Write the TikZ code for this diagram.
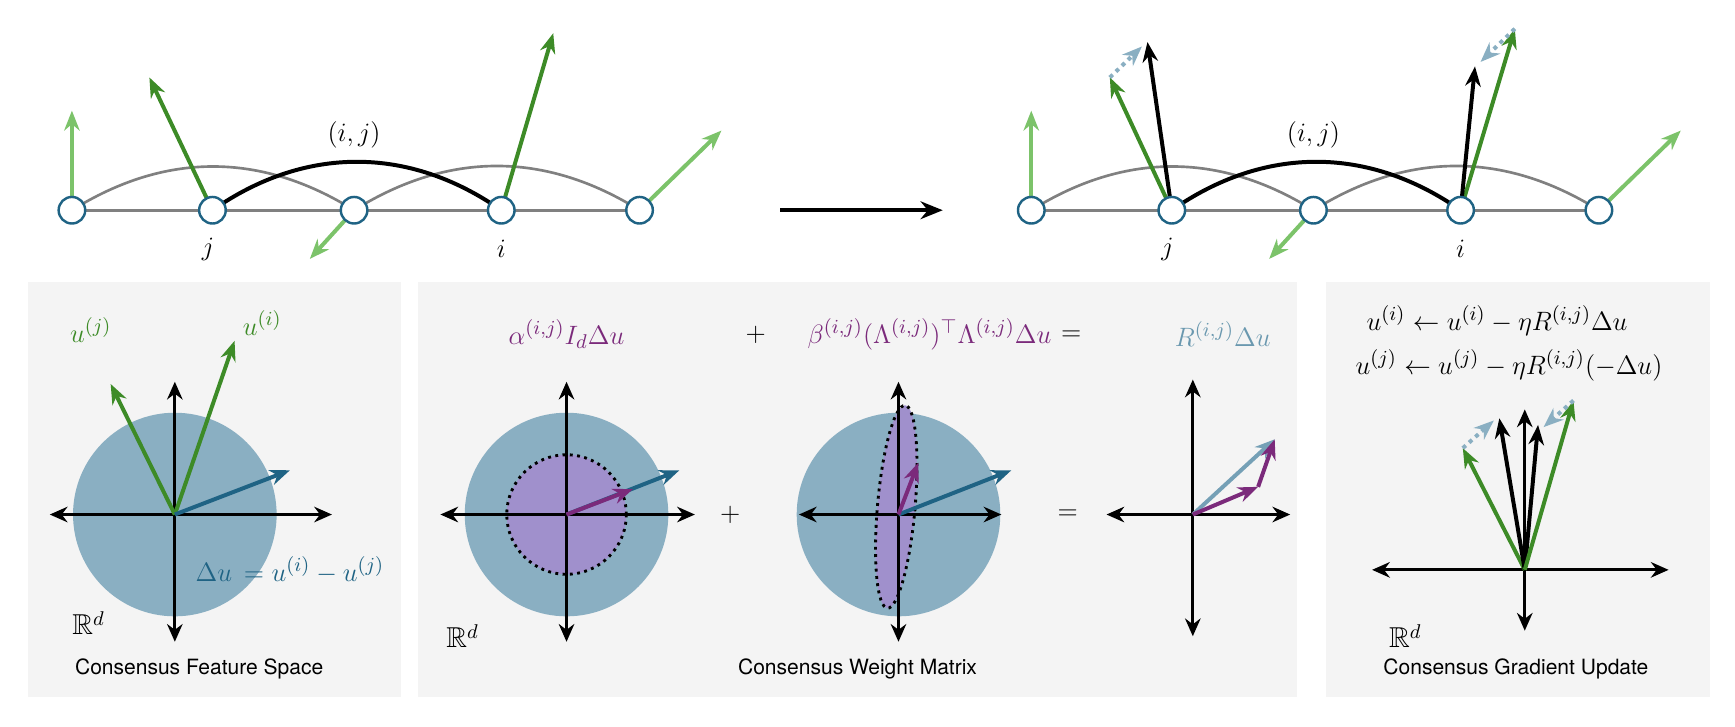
\documentclass[tikz,border=0pt]{standalone}
\usepackage{amssymb}
\usepackage{fontspec}
\setsansfont{TeX Gyre Heros}
\usetikzlibrary{arrows.meta}
\definecolor{dg}{HTML}{3D8B27}
\definecolor{lg}{HTML}{7CC36A}
\definecolor{tb}{HTML}{1F6384}
\definecolor{lb}{HTML}{8AAFC2}
\definecolor{pu}{HTML}{7B2A7B}
\definecolor{pf}{HTML}{A090CC}
\definecolor{bg}{HTML}{F4F4F4}
\begin{document}
\begin{tikzpicture}[x=0.5pt,y=-0.5pt,
  gn/.style={circle,draw=tb,fill=white,line width=1.1pt,minimum width=11pt,minimum height=12pt,inner sep=0pt},
  ge/.style={draw=gray,line width=1.2pt},
  vec/.style={line width=1.8pt,-{Stealth[length=9pt,width=7pt]}},
  axis/.style={line width=1.3pt,{Stealth[length=8pt,width=7pt]}-{Stealth[length=8pt,width=7pt]}},
  dotv/.style={lb,line width=1.8pt,dotted,-{Stealth[length=9pt,width=7pt]}},
  lab/.style={font=\fontsize{13}{15}\selectfont},
  captxt/.style={font=\sffamily\fontsize{9.5}{11}\selectfont},
  panel/.style={fill=bg,draw=none}]
\useasboundingbox (0,0) rectangle (1568,657);
% ---------- top graphs ----------
\foreach \o/\p in {0/L,867/R}{
  \foreach \k/\xx in {1/65,2/192,3/320,4/453,5/578}{
    \coordinate (\p c\k) at (\xx+\o,190);
  }
  \draw[ge] (\p c1) -- (\p c5);
  \draw[ge] (\p c1) to[out=32,in=148] (\p c3);
  \draw[ge] (\p c3) to[out=32,in=148] (\p c5);
  \draw[line width=1.8pt] (\p c2) to[out=35,in=145] (\p c4);
  \node[lab] (\p ij) at (320+\o,122) {$(i,j)$};
  \node[lab] (\p j) at (188+\o,225) {$j$};
  \node[lab] (\p i) at (453+\o,225) {$i$};
  \coordinate (\p v1) at (65+\o,100);
  \coordinate (\p v3) at (280+\o,234);
  \coordinate (\p v5) at (652+\o,118);
  \draw[vec,lg] (\p c1) -- (\p v1);
  \draw[vec,lg] (\p c3) -- (\p v3);
  \draw[vec,lg] (\p c5) -- (\p v5);
}
\coordinate (Lv2) at (135,70);
\coordinate (Lv4) at (500,30);
\draw[vec,dg] (Lc2) -- (Lv2);
\draw[vec,dg] (Lc4) -- (Lv4);
% right updated
\coordinate (Rg2) at (1003,70);
\coordinate (Rb2) at (1037,38);
\coordinate (Rg4) at (1369,26);
\coordinate (Rb4) at (1333,60);
\draw[vec,dg] (Rc2) -- (Rg2);
\draw[vec] (Rc2) -- (Rb2);
\draw[vec,dg] (Rc4) -- (Rg4);
\draw[vec] (Rc4) -- (Rb4);
\draw[dotv] (Rg2) -- (1032,42);
\draw[dotv] (Rg4) -- (1338,56);
\foreach \k in {1,...,5}{
  \node[gn] (Ln\k) at (Lc\k) {};
  \node[gn] (Rn\k) at (Rc\k) {};
}
% big arrow
\coordinate (A1) at (705,190);
\coordinate (A2) at (852,190);
\draw[line width=1.8pt,-{Stealth[length=10pt,width=8pt]}] (A1) -- (A2);
% ---------- panels ----------
\fill[panel] (25,255) rectangle (362,630);
\fill[panel] (378,255) rectangle (1172,630);
\fill[panel] (1198,255) rectangle (1545,630);
% panel 1
\coordinate (O1) at (158,465);
\fill[lb] (O1) circle[radius=92];
\draw[axis] (45,465) -- (300,465);
\draw[axis] (158,345) -- (158,580);
\draw[vec,dg] (O1) -- (100,347);
\draw[vec,dg] (O1) -- (212,308);
\draw[vec,tb] (O1) -- (262,425);
\node[lab,text=dg] (l1) at (82,298) {$u^{(j)}$};
\node[lab,text=dg] (l2) at (237,292) {$u^{(i)}$};
\node[lab,text=tb] (l3) at (262,515) {$\Delta u\,=u^{(i)}-u^{(j)}$};
\node[lab] (r1) at (80,563) {$\mathbb{R}^d$};
\node[captxt] (c1) at (180,605) {Consensus Feature Space};
% panel 2a
\coordinate (O2) at (512,465);
\fill[lb] (O2) circle[radius=92];
\draw[fill=pf,line width=1.3pt,dotted] (O2) circle[radius=54];
\draw[axis] (398,465) -- (628,465);
\draw[axis] (512,345) -- (512,580);
\draw[vec,tb] (O2) -- (614,425);
\draw[vec,pu] (O2) -- (572,442);
\node[lab,text=pu] (l4) at (512,302) {$\alpha^{(i,j)}I_d\Delta u$};
\node[lab] (r2) at (418,575) {$\mathbb{R}^d$};
\node[lab] (p1) at (660,465) {$+$};
\node[lab] (p2) at (683,303) {$+$};
% panel 2b
\coordinate (O3) at (812,465);
\fill[lb] (O3) circle[radius=92];
\draw[fill=pf,line width=1.3pt,dotted,rotate around={-5:(810,458)}] (810,458) ellipse[x radius=17,y radius=92];
\draw[axis] (722,465) -- (905,465);
\draw[axis] (812,345) -- (812,580);
\draw[vec,tb] (O3) -- (914,425);
\draw[vec,pu] (O3) -- (830,418);
\node[lab,text=pu] (l5) at (840,302) {$\beta^{(i,j)}(\Lambda^{(i,j)})^{\top}\Lambda^{(i,j)}\Delta u$};
\node[lab] (e1) at (965,465) {$=$};
\node[lab] (e2) at (968,303) {$=$};
% panel 2c
\coordinate (O4) at (1078,465);
\coordinate (M4) at (1137,440);
\coordinate (T4) at (1152,397);
\draw[axis] (1000,465) -- (1166,465);
\draw[axis] (1078,343) -- (1078,575);
\draw[vec,lb!80!tb] (O4) -- (T4);
\draw[vec,pu] (O4) -- (M4);
\draw[vec,pu] (M4) -- (T4);
\node[lab,text=lb!70!tb] (l6) at (1105,302) {$R^{(i,j)}\Delta u$};
\node[captxt] (c2) at (775,605) {Consensus Weight Matrix};
% panel 3
\node[lab,anchor=west] (f1) at (1228,290) {$u^{(i)}\leftarrow u^{(i)}-\eta R^{(i,j)}\Delta u$};
\node[lab,anchor=west] (f2) at (1218,330) {$u^{(j)}\leftarrow u^{(j)}-\eta R^{(i,j)}(-\Delta u)$};
\coordinate (O5) at (1378,515);
\draw[axis] (1240,515) -- (1508,515);
\draw[axis] (1378,370) -- (1378,570);
\coordinate (G1) at (1322,405);
\coordinate (B1) at (1355,378);
\coordinate (B2) at (1390,384);
\coordinate (G2) at (1422,362);
\draw[vec,dg] (O5) -- (G1);
\draw[vec] (O5) -- (B1);
\draw[vec] (O5) -- (B2);
\draw[vec,dg] (O5) -- (G2);
\draw[dotv] (G1) -- (1350,380);
\draw[dotv] (G2) -- (1395,386);
\node[lab] (r3) at (1270,575) {$\mathbb{R}^d$};
\node[captxt] (c3) at (1370,605) {Consensus Gradient Update};
\end{tikzpicture}
\end{document}
